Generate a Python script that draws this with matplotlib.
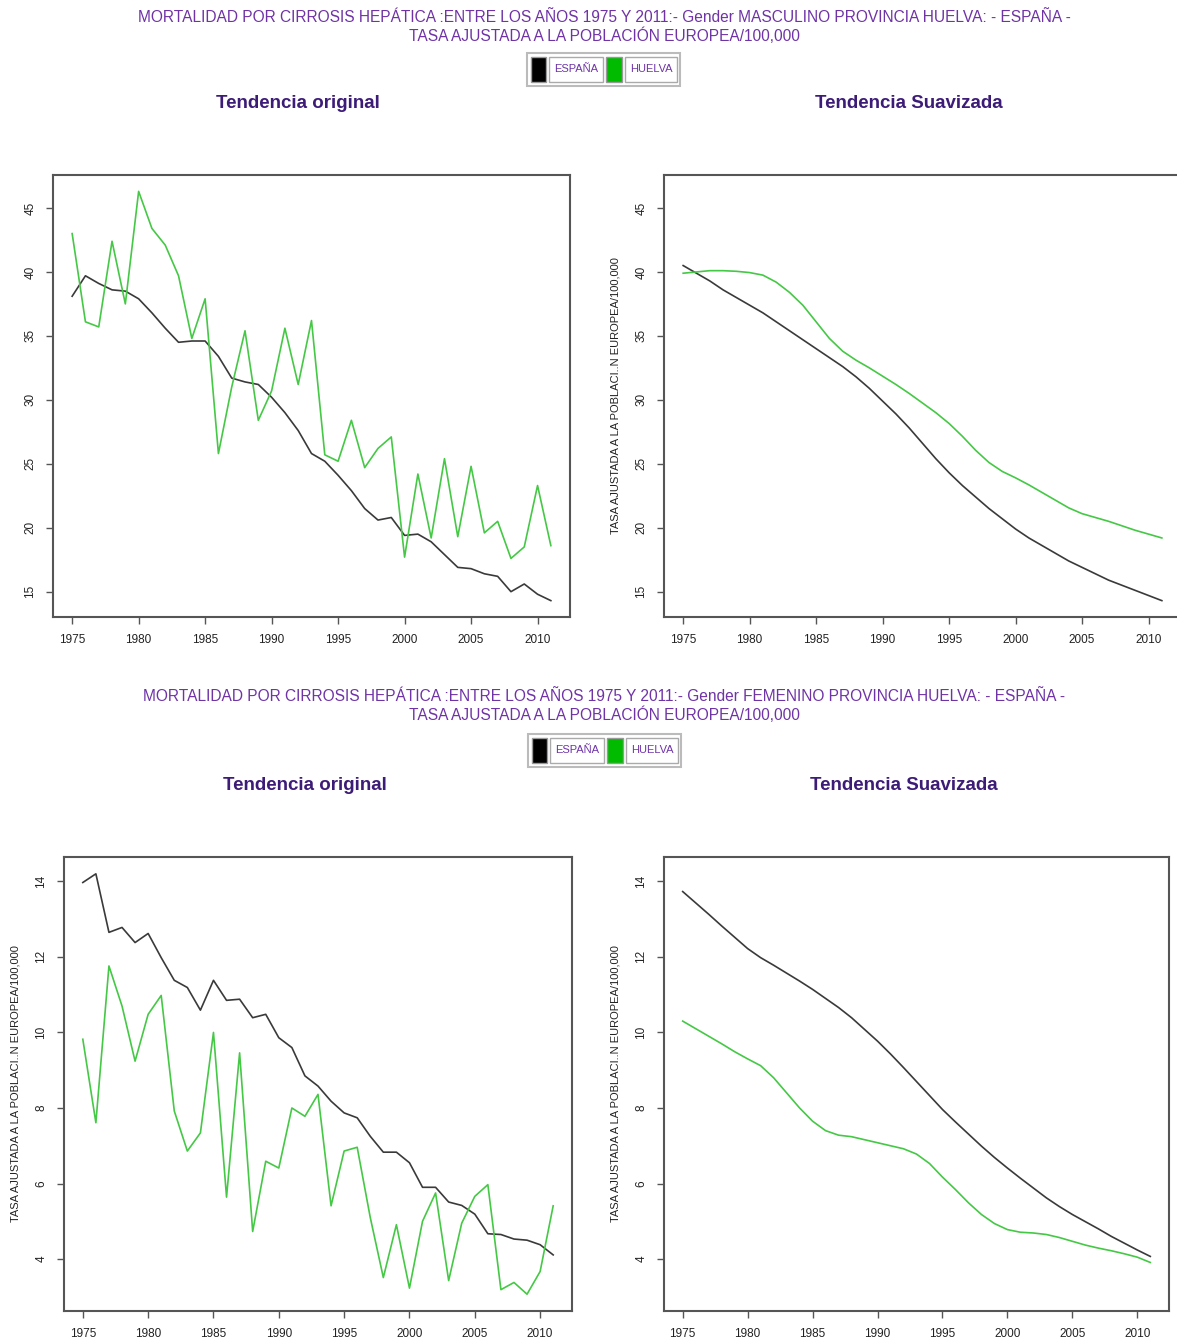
import matplotlib
matplotlib.use('Agg')
import matplotlib.pyplot as plt
from matplotlib.patches import Rectangle

plt.rcParams['font.family'] = ['Liberation Sans', 'DejaVu Sans']

anios = list(range(1975, 2012))

# Tasas ajustadas, hombres
espana_masc = [38.1, 39.7, 39.1, 38.6, 38.5, 37.9, 36.8, 35.6, 34.5, 34.6,
               34.6, 33.4, 31.7, 31.4, 31.2, 30.2, 29.0, 27.6, 25.8, 25.2,
               24.1, 22.9, 21.5, 20.6, 20.8, 19.4, 19.5, 18.9, 17.9, 16.9,
               16.8, 16.4, 16.2, 15.0, 15.6, 14.8, 14.3]
huelva_masc = [43.0, 36.1, 35.7, 42.4, 37.5, 46.3, 43.4, 42.1, 39.7, 34.8,
               37.9, 25.8, 31.0, 35.4, 28.4, 30.7, 35.6, 31.2, 36.2, 25.7,
               25.2, 28.4, 24.7, 26.2, 27.1, 17.7, 24.2, 19.2, 25.4, 19.3,
               24.8, 19.6, 20.5, 17.6, 18.5, 23.3, 18.6]
espana_masc_suav = [40.5, 39.9, 39.3, 38.6, 38.0, 37.4, 36.8, 36.1, 35.4, 34.7,
                    34.0, 33.3, 32.6, 31.8, 30.9, 29.9, 28.9, 27.8, 26.6, 25.4,
                    24.3, 23.3, 22.4, 21.5, 20.7, 19.9, 19.2, 18.6, 18.0, 17.4,
                    16.9, 16.4, 15.9, 15.5, 15.1, 14.7, 14.3]
huelva_masc_suav = [39.9, 40.0, 40.1, 40.1, 40.05, 39.95, 39.75, 39.2, 38.4, 37.4,
                    36.1, 34.8, 33.8, 33.1, 32.5, 31.85, 31.2, 30.5, 29.75, 29.0,
                    28.15, 27.15, 26.05, 25.1, 24.4, 23.9, 23.35, 22.75, 22.15, 21.55,
                    21.1, 20.8, 20.5, 20.15, 19.8, 19.5, 19.2]

# Tasas ajustadas, mujeres
espana_fem = [13.97, 14.2, 12.65, 12.78, 12.38, 12.62, 11.98, 11.38, 11.19, 10.59,
              11.38, 10.85, 10.88, 10.39, 10.48, 9.86, 9.6, 8.85, 8.58, 8.18,
              7.87, 7.74, 7.25, 6.83, 6.83, 6.55, 5.9, 5.9, 5.51, 5.42,
              5.19, 4.67, 4.65, 4.53, 4.5, 4.38, 4.11]
huelva_fem = [9.82, 7.61, 11.76, 10.7, 9.24, 10.48, 10.98, 7.92, 6.86, 7.34,
              10.0, 5.64, 9.46, 4.73, 6.59, 6.41, 8.0, 7.78, 8.36, 5.41,
              6.86, 6.96, 5.1, 3.51, 4.91, 3.23, 5.0, 5.75, 3.43, 4.95,
              5.66, 5.97, 3.19, 3.38, 3.07, 3.67, 5.41]
espana_fem_suav = [13.73, 13.43, 13.13, 12.82, 12.52, 12.22, 11.98, 11.78, 11.57, 11.36,
                   11.14, 10.90, 10.66, 10.39, 10.08, 9.77, 9.43, 9.07, 8.70, 8.33,
                   7.96, 7.63, 7.31, 6.99, 6.69, 6.41, 6.14, 5.88, 5.62, 5.39,
                   5.18, 4.99, 4.80, 4.60, 4.42, 4.24, 4.07]
huelva_fem_suav = [10.30, 10.10, 9.90, 9.70, 9.49, 9.30, 9.12, 8.80, 8.40, 8.00,
                   7.65, 7.40, 7.28, 7.24, 7.16, 7.08, 7.00, 6.92, 6.78, 6.53,
                   6.17, 5.84, 5.49, 5.18, 4.94, 4.78, 4.71, 4.69, 4.65, 4.57,
                   4.47, 4.37, 4.29, 4.22, 4.14, 4.05, 3.91]

titulo_masc = ("MORTALIDAD POR CIRROSIS HEPÁTICA :ENTRE LOS AÑOS 1975 Y 2011:- Gender MASCULINO "
               "PROVINCIA HUELVA: - ESPAÑA -\nTASA AJUSTADA A LA POBLACIÓN EUROPEA/100,000")
titulo_fem = ("MORTALIDAD POR CIRROSIS HEPÁTICA :ENTRE LOS AÑOS 1975 Y 2011:- Gender FEMENINO "
              "PROVINCIA HUELVA: - ESPAÑA -\nTASA AJUSTADA A LA POBLACIÓN EUROPEA/100,000")
etiqueta_y = "TASA AJUSTADA A LA POBLACI..N EUROPEA/100,000"

COL_ESP = '#3a3a3a'
COL_HUE = '#45c845'
MORADO = '#6f33a6'
MORADO_OSC = '#3d1c78'
GRIS = '#555555'

W, H = 1177, 1340
fig = plt.figure(figsize=(W / 100, H / 100), dpi=100)


def px(x, y):
    return x / W, 1 - y / H


def caja(x0, y0, x1, y1):
    return [x0 / W, 1 - y1 / H, (x1 - x0) / W, (y1 - y0) / H]


def rango(*series):
    lo = min(min(s) for s in series)
    hi = max(max(s) for s in series)
    d = (hi - lo) * 0.04
    return lo - d, hi + d


def panel(pos, esp, hue, ylim, yticks, ylabel):
    ax = fig.add_axes(caja(*pos))
    ax.plot(anios, esp, color=COL_ESP, lw=1.2)
    ax.plot(anios, hue, color=COL_HUE, lw=1.2)
    ax.set_xlim(1973.56, 2012.44)
    ax.set_ylim(*ylim)
    ax.set_xticks(range(1975, 2011, 5))
    ax.set_yticks(yticks)
    ax.tick_params(length=5, width=1, color=GRIS, labelsize=8.5, pad=7,
                   labelcolor='#222222')
    for lab in ax.get_yticklabels():
        lab.set_rotation(90)
        lab.set_va('center')
    for s in ax.spines.values():
        s.set_color(GRIS)
        s.set_linewidth(1.5)
    if ylabel:
        ax.set_ylabel(etiqueta_y, fontsize=8, labelpad=11, color='#222222')
    return ax


def leyenda(x0, y0):
    # recuadro exterior y celdas de la leyenda
    fig.add_artist(Rectangle(px(x0, y0 + 33), 153 / W, 33 / H, transform=fig.transFigure,
                             facecolor='white', edgecolor='#bbbbbb', lw=1.5))
    fig.add_artist(Rectangle(px(x0 + 4, y0 + 29), 15 / W, 25 / H, transform=fig.transFigure,
                             facecolor='black', edgecolor='#999999', lw=1))
    fig.add_artist(Rectangle(px(x0 + 22, y0 + 29), 54 / W, 25 / H, transform=fig.transFigure,
                             facecolor='white', edgecolor='#aaaaaa', lw=1))
    fig.add_artist(Rectangle(px(x0 + 79, y0 + 29), 16 / W, 25 / H, transform=fig.transFigure,
                             facecolor='#00bb00', edgecolor='#999999', lw=1))
    fig.add_artist(Rectangle(px(x0 + 98, y0 + 29), 52 / W, 25 / H, transform=fig.transFigure,
                             facecolor='white', edgecolor='#aaaaaa', lw=1))
    fig.text(*px(x0 + 49, y0 + 16), "ESPAÑA", fontsize=8, color=MORADO,
             ha='center', va='center')
    fig.text(*px(x0 + 124, y0 + 16), "HUELVA", fontsize=8, color=MORADO,
             ha='center', va='center')


# Bloque hombres
fig.text(*px(604, 27), titulo_masc, fontsize=11.2, color=MORADO, ha='center',
         va='center', linespacing=1.2)
leyenda(527, 53)
fig.text(*px(298, 103), "Tendencia original", fontsize=13.5, fontweight='bold',
         color=MORADO_OSC, ha='center', va='center')
fig.text(*px(909, 103), "Tendencia Suavizada", fontsize=13.5, fontweight='bold',
         color=MORADO_OSC, ha='center', va='center')

lim_m = rango(espana_masc, huelva_masc)
panel((53, 175, 570, 617), espana_masc, huelva_masc, lim_m, range(15, 46, 5), False)
panel((664, 175, 1181, 617), espana_masc_suav, huelva_masc_suav, lim_m, range(15, 46, 5), True)

# Bloque mujeres
fig.text(*px(604, 706), titulo_fem, fontsize=11.2, color=MORADO, ha='center',
         va='center', linespacing=1.2)
leyenda(528, 734)
fig.text(*px(305, 785), "Tendencia original", fontsize=13.5, fontweight='bold',
         color=MORADO_OSC, ha='center', va='center')
fig.text(*px(904, 785), "Tendencia Suavizada", fontsize=13.5, fontweight='bold',
         color=MORADO_OSC, ha='center', va='center')

lim_f = rango(espana_fem, huelva_fem)
panel((64, 857, 572, 1311), espana_fem, huelva_fem, lim_f, range(4, 15, 2), True)
panel((664, 857, 1169, 1311), espana_fem_suav, huelva_fem_suav, lim_f, range(4, 15, 2), True)

fig.savefig('out.png', dpi=100)
